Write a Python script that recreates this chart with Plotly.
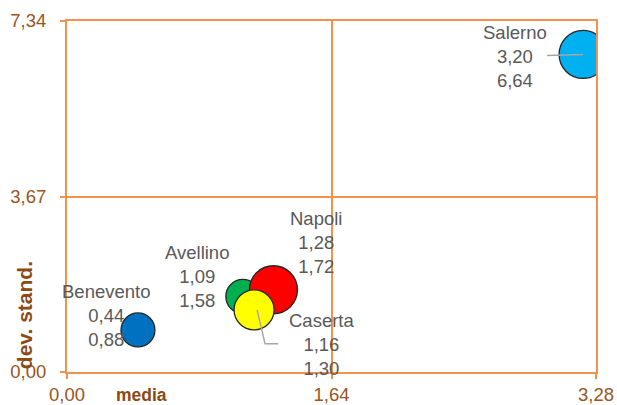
import math
import plotly.graph_objects as go

# Province data: mean (media), standard deviation (dev. stand.), bubble weight
province = ["Benevento", "Avellino", "Napoli", "Caserta", "Salerno"]
media = [0.44, 1.09, 1.28, 1.16, 3.20]
dev_stand = [0.88, 1.58, 1.72, 1.30, 6.64]
peso = [1.15, 1.15, 2.30, 1.60, 2.30]
colori = ["#0070C0", "#00B050", "#FF0000", "#FFFF00", "#00B0F0"]

x_ticks = [0.0, 1.64, 3.28]
x_ticktext = ["0,00", "1,64", "3,28"]
y_ticks = [0.0, 3.67, 7.34]
y_ticktext = ["0,00", "3,67", "7,34"]

ORANGE = "#F4914D"
BROWN = "#9A5520"
LABEL = "#595959"
FONT = "Liberation Sans, Arial, sans-serif"

max_d = 48
diam = [max_d * math.sqrt(p / max(peso)) for p in peso]


def fmt(v):
    return f"{v:.2f}".replace(".", ",")


fig = go.Figure()
fig.add_trace(go.Scatter(
    x=media, y=dev_stand, mode="markers",
    marker=dict(size=diam, sizemode="diameter", color=colori,
                line=dict(color="#262626", width=1.3), opacity=1),
    hoverinfo="skip", showlegend=False,
))

# data labels: offset of text block (px) from bubble centre
offsets = {
    "Benevento": (-32, 14),
    "Avellino": (-46, 20),
    "Napoli": (43, 47),
    "Caserta": (67, -35),
    "Salerno": (-68, -2),
}
for name, xv, yv in zip(province, media, dev_stand):
    dx, dy = offsets[name]
    fig.add_annotation(
        x=xv, y=yv, xref="x", yref="y",
        text=f"{name}<br>{fmt(xv)}<br>{fmt(yv)}",
        showarrow=False, xshift=dx, yshift=dy,
        font=dict(family=FONT, size=18.5, color=LABEL),
        align="center",
    )

# leader lines
i = province.index("Caserta")
fig.add_shape(type="path", xref="x", yref="y", xsizemode="pixel", ysizemode="pixel",
              xanchor=media[i], yanchor=dev_stand[i],
              path="M 3 0 L 11 -34 L 24 -34",
              line=dict(color="#A6A6A6", width=1.5), layer="above")
i = province.index("Salerno")
fig.add_shape(type="path", xref="x", yref="y", xsizemode="pixel", ysizemode="pixel",
              xanchor=media[i], yanchor=dev_stand[i],
              path="M -36 -1 L 0 0",
              line=dict(color="#A6A6A6", width=1.5), layer="above")

# axis titles
fig.add_annotation(x=0.14, y=0, xref="paper", yref="paper", yshift=-23,
                   text="<b>media</b>", showarrow=False,
                   xanchor="center", yanchor="middle",
                   font=dict(family=FONT, size=17.5, color="#8B4A14"))
fig.add_annotation(x=0, y=0.162, xref="paper", yref="paper", xshift=-43,
                   text="<b>dev. stand.</b>", showarrow=False, textangle=-90,
                   xanchor="center", yanchor="middle",
                   font=dict(family=FONT, size=21, color="#8B4A14"))

axis_common = dict(
    showline=True, mirror=True, linecolor=ORANGE, linewidth=2,
    showgrid=True, gridcolor=ORANGE, gridwidth=1.5, zeroline=False,
    ticks="outside", ticklen=5, tickcolor=ORANGE, tickwidth=1.5,
    tickfont=dict(family=FONT, size=18.5, color=BROWN),
    automargin=False,
)
fig.update_xaxes(range=[0, 3.28], tickvals=x_ticks, ticktext=x_ticktext,
                 ticklabelstandoff=0, **axis_common)
fig.update_yaxes(range=[0, 7.34], tickvals=y_ticks, ticktext=y_ticktext,
                 ticklabelstandoff=10, **axis_common)

fig.update_layout(
    width=617, height=405,
    margin=dict(l=67, r=21, t=21, b=33),
    paper_bgcolor="white", plot_bgcolor="white",
    font=dict(family=FONT),
)

fig.write_html("out.html")
